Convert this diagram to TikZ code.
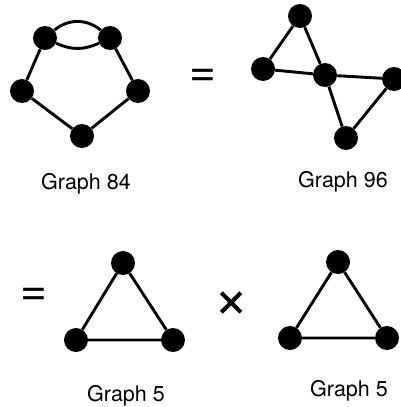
\documentclass[tikz,border=0pt]{standalone}
\usepackage{fontspec}
\setmainfont{TeX Gyre Heros}
\tikzset{
  vtx/.style={circle,fill=black,inner sep=0pt,minimum size=24pt},
  edge/.style={line width=2.9pt},
  caption/.style={font=\fontsize{21.5}{26}\selectfont},
  op/.style={font=\fontsize{46}{46}\selectfont}
}
\begin{document}
\begin{tikzpicture}[x=1pt,y=-1pt]
    \useasboundingbox (0,0) rectangle (400,407);

    % Graph 84
    \node[vtx] (a) at (45,38) {};
    \node[vtx] (b) at (110,38) {};
    \node[vtx] (c) at (22,91) {};
    \node[vtx] (d) at (138,91) {};
    \node[vtx] (e) at (82,136) {};
    \draw[edge] (a) to[bend left=40] (b);
    \draw[edge] (a) to[bend right=25] (b);
    \draw[edge] (a)--(c)--(e)--(d)--(b);
    \node[caption] (g84) at (86,184) {Graph 84};

    \node[op] (eq1) at (203,78) {=};

    % Graph 96
    \node[vtx] (t) at (300,16) {};
    \node[vtx] (l) at (263,69) {};
    \node[vtx] (m) at (325,75) {};
    \node[vtx] (r) at (394,79) {};
    \node[vtx] (bt) at (346,138) {};
    \draw[edge] (t)--(l)--(m)--(t);
    \draw[edge] (m)--(r)--(bt)--(m);
    \node[caption] (g96) at (343,182) {Graph 96};

    \node[op] (eq2) at (34,297) {=};

    % Graph 5, twice
    \node[vtx] (p) at (123,263) {};
    \node[vtx] (q) at (76,340) {};
    \node[vtx] (s) at (173,340) {};
    \draw[edge] (p)--(q)--(s)--(p);
    \node[caption] (g5a) at (126,396) {Graph 5};

    \node[op,font=\fontsize{62}{62}\selectfont] (times) at (232,305) {×};

    \node[vtx] (u) at (338,262) {};
    \node[vtx] (v) at (290,338) {};
    \node[vtx] (w) at (387,338) {};
    \draw[edge] (u)--(v)--(w)--(u);
    \node[caption] (g5b) at (349,391) {Graph 5};
\end{tikzpicture}
\end{document}
